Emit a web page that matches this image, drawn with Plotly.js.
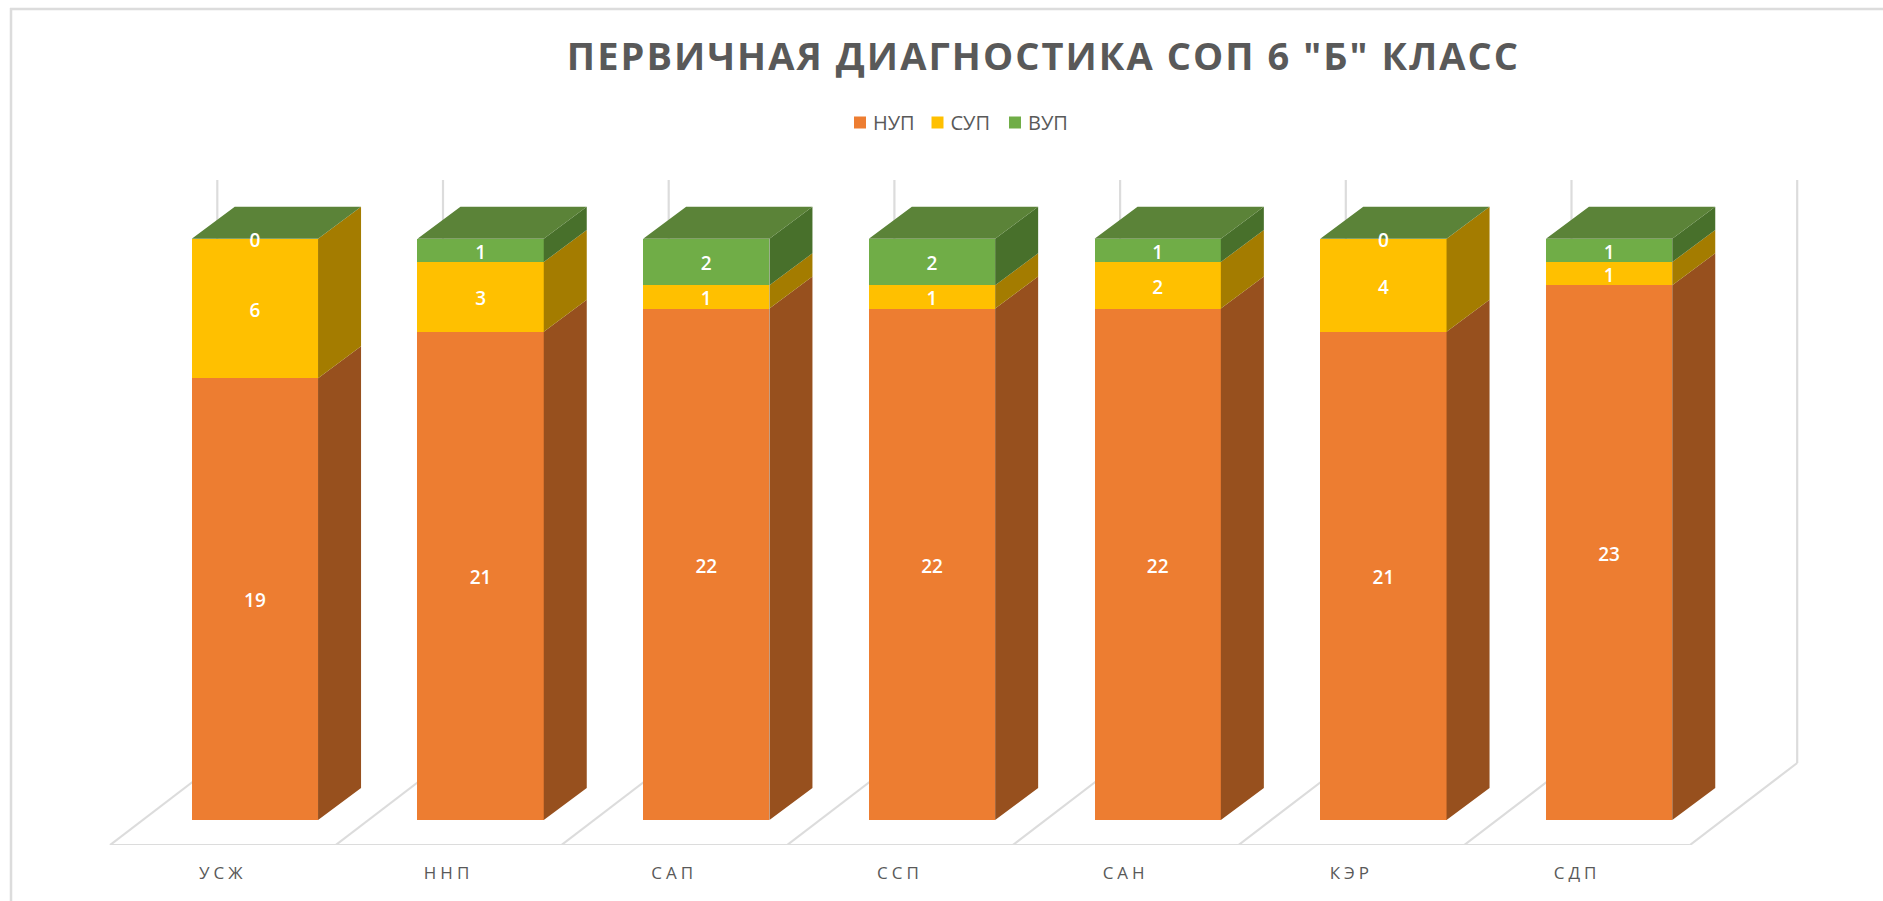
<!DOCTYPE html>
<html><head><meta charset="utf-8">
<script src="https://cdn.plot.ly/plotly-3.0.1.min.js"></script>
<style>
html,body{margin:0;padding:0;background:#fff;overflow:hidden}
.gtitle{letter-spacing:2.05px}
.xtick text{letter-spacing:4px}
.legendtext{transform:translateX(-7px)}
</style></head><body><div id="chart" style="width:1883px;height:901px"></div>
<script>
const categories=["УСЖ","ННП","САП","ССП","САН","КЭР","СДП"];
const nup=[19,21,22,22,22,21,23];
const sup=[6,3,1,1,2,4,1];
const vup=[0,1,2,2,1,0,1];
const seriesNames=["НУП","СУП","ВУП"];
const frontColors=["#ED7D31","#FFC000","#70AD47"];
const sideColors=["#97501E","#A47C00","#48702B"];
const topColor="#5B8338";
const gridColor="#DCDCDC";
const titleText='ПЕРВИЧНАЯ ДИАГНОСТИКА СОП 6 "Б" КЛАСС';

const pitch=225.7, unit=23.25, x0px=254.9, y0px=820, floorPx=845;
const barW=126.3/pitch, dX=43/pitch, dY=32/unit, labelNudge=3.5/unit;
const xr=px=>(px-x0px)/pitch, yr=py=>(y0px-py)/unit;
const series=[nup,sup,vup];
const idx=categories.map((_,i)=>i);
const traces=[];
series.forEach((vals,s)=>traces.push({type:'bar',name:seriesNames[s],x:idx,y:vals,width:barW,
  marker:{color:frontColors[s],line:{width:0}},hoverinfo:'x+y+name'}));
series.forEach((vals,s)=>{
  const xs=[],ys=[];
  idx.forEach(i=>{
    let b=0;for(let k=0;k<s;k++)b+=series[k][i];
    const t=b+vals[i],r=i+barW/2;
    if(vals[i]>0){xs.push(r,r+dX,r+dX,r,r,null);ys.push(b,b+dY,t+dY,t,b,null);}
  });
  traces.push({type:'scatter',mode:'lines',x:xs,y:ys,fill:'toself',fillcolor:sideColors[s],
    line:{width:0,color:sideColors[s]},showlegend:false,hoverinfo:'skip'});
});
{
  const xs=[],ys=[];
  idx.forEach(i=>{
    const t=nup[i]+sup[i]+vup[i],l=i-barW/2,r=i+barW/2;
    xs.push(l,l+dX,r+dX,r,l,null);ys.push(t,t+dY,t+dY,t,t,null);
  });
  traces.push({type:'scatter',mode:'lines',x:xs,y:ys,fill:'toself',fillcolor:topColor,
    line:{width:0,color:topColor},showlegend:false,hoverinfo:'skip'});
}
{
  const xs=[],ys=[],ts=[];
  series.forEach((vals,s)=>idx.forEach(i=>{
    let b=0;for(let k=0;k<s;k++)b+=series[k][i];
    xs.push(i);ys.push(b+vals[i]/2-labelNudge);ts.push(String(vals[i]));
  }));
  traces.push({type:'scatter',mode:'text',x:xs,y:ys,text:ts,textposition:'middle center',
    textfont:{family:'"Open Sans",sans-serif',size:19,color:'#FFFFFF',weight:600},
    showlegend:false,hoverinfo:'skip',cliponaxis:false});
}
const gl={color:gridColor,width:2.2};
const shapes=[];
const line=(xa,ya,xb,yb)=>shapes.push({type:'line',layer:'below',xref:'x',yref:'y',x0:xa,y0:ya,x1:xb,y1:yb,line:gl});
const frontL=xr(110), backL=xr(217.3), yFront=yr(floorPx), yBack=yr(763), yWall=yr(180);
for(let k=0;k<=categories.length;k++){
  line(backL+k,yBack,backL+k,yWall);
  line(frontL+k,yFront,backL+k,yBack);
}
line(frontL,yFront,frontL+categories.length,yFront);
const frameY=-(56)/845;
shapes.push({type:'line',layer:'below',xref:'paper',yref:'paper',x0:11/1883,x1:11/1883,y0:frameY,y1:1-8/845,line:{color:'#DCDCDC',width:2.5}});
shapes.push({type:'line',layer:'below',xref:'paper',yref:'paper',x0:10/1883,x1:1,y0:1-9/845,y1:1-9/845,line:{color:'#DCDCDC',width:2.5}});

const layout={
  width:1883,height:901,margin:{l:0,r:0,t:0,b:901-floorPx,pad:0},
  paper_bgcolor:'#FFFFFF',plot_bgcolor:'#FFFFFF',barmode:'stack',shapes,
  title:{text:titleText,xref:'container',yref:'container',x:1043.5/1883,xanchor:'center',y:1-57/901,yanchor:'middle',
    font:{family:'"Open Sans",sans-serif',size:38,color:'#595959',weight:700}},
  font:{family:'"Open Sans",sans-serif'},
  xaxis:{range:[xr(0),xr(1883)],tickmode:'array',tickvals:idx.map(i=>frontL+i+0.5),ticktext:categories,
    showgrid:false,zeroline:false,showline:false,ticks:'outside',ticklen:13,tickcolor:'rgba(0,0,0,0)',
    tickfont:{family:'"Open Sans",sans-serif',size:17,color:'#595959'},fixedrange:true},
  yaxis:{range:[yr(floorPx),yr(0)],visible:false,fixedrange:true},
  legend:{orientation:'h',x:(860-20)/1883,xanchor:'left',y:1-(117-14)/845,yanchor:'top',
    entrywidth:32.5,entrywidthmode:'pixels',font:{family:'"Open Sans",sans-serif',size:20,color:'#595959'},
    traceorder:'normal',tracegroupgap:0}
};
Plotly.newPlot('chart',traces,layout,{displayModeBar:false,staticPlot:true});
</script></body></html>
